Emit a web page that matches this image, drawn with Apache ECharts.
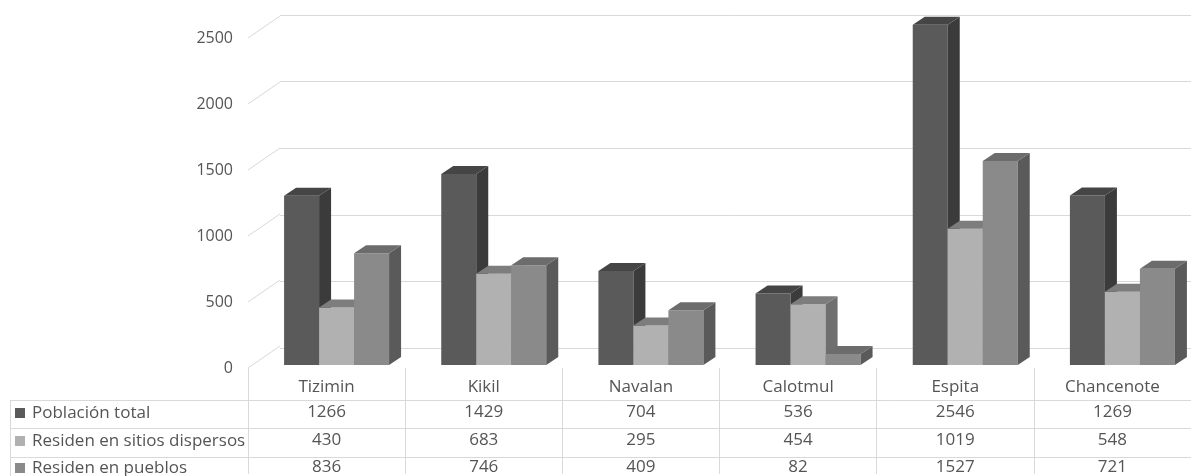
<!DOCTYPE html>
<html>
<head>
<meta charset="utf-8">
<script src="https://cdn.jsdelivr.net/npm/echarts@6/dist/echarts.min.js"></script>
<style>
  html, body { margin: 0; padding: 0; background: #ffffff; }
  #chart { width: 1191px; height: 476px; }
</style>
</head>
<body>
<div id="chart"></div>
<script>
// Localidades y población por tipo de residencia
const categories = ['Tizimin', 'Kikil', 'Navalan', 'Calotmul', 'Espita', 'Chancenote'];
const seriesNames = ['Población total', 'Residen en sitios dispersos', 'Residen en pueblos'];
const poblacionTotal = [1266, 1429, 704, 536, 2546, 1269];
const sitiosDispersos = [430, 683, 295, 454, 1019, 548];
const residenPueblos = [836, 746, 409, 82, 1527, 721];
const yTicks = [0, 500, 1000, 1500, 2000, 2500];

const seriesValues = [poblacionTotal, sitiosDispersos, residenPueblos];

// front / top / side shading for each series
const shades = [
  { front: '#5a5a5a', top: '#454545', side: '#3b3b3b' },
  { front: '#b1b1b1', top: '#7d7d7d', side: '#6f6f6f' },
  { front: '#8a8a8a', top: '#6c6c6c', side: '#5a5a5a' }
];

const textColor = '#555555';
const ruleColor = '#d9d9d9';
const FONT = '"Open Sans", "Noto Sans", sans-serif';

// depth of each bar and of the back wall
const BAR_DX = 12, BAR_DY = 8;
const WALL_DX = 32, WALL_DY = 22;

function bar3D(s) {
  const c = shades[s];
  return function (params, api) {
    const cat = api.value(0);
    const val = api.value(1);
    const base = api.coord([cat, 0]);
    const top = api.coord([cat, val]);
    const band = api.size([1, 0])[0];
    const w = band * 0.2227;
    const x0 = base[0] + band * 0.0636 - 1.5 * w + s * w;
    const x1 = x0 + w;
    const yb = base[1], yt = top[1];
    return {
      type: 'group',
      children: [
        { type: 'rect', shape: { x: x0, y: yt, width: w, height: yb - yt }, style: { fill: c.front } },
        { type: 'polygon', shape: { points: [[x1, yb], [x1 + BAR_DX, yb - BAR_DY], [x1 + BAR_DX, yt - BAR_DY], [x1, yt]] }, style: { fill: c.side } },
        { type: 'polygon', shape: { points: [[x0, yt], [x0 + BAR_DX, yt - BAR_DY], [x1 + BAR_DX, yt - BAR_DY], [x1, yt]] }, style: { fill: c.top } }
      ]
    };
  };
}

// diagonal wall edges joining the front tick positions to the back wall grid lines
function wallEdge(params, api) {
  const p = api.coord([0, api.value(1)]);
  const x = params.coordSys.x;
  return {
    type: 'line',
    shape: { x1: x, y1: p[1], x2: x + WALL_DX, y2: p[1] - WALL_DY },
    style: { stroke: ruleColor, lineWidth: 1 }
  };
}

const tableText = { color: textColor, fontSize: 17, fontFamily: FONT, lineHeight: 18 };

function rowAxis(values, offset) {
  return {
    type: 'category', gridIndex: 0, data: categories, position: 'bottom', offset: offset,
    axisLine: { show: false }, axisTick: { show: false }, splitLine: { show: false },
    axisLabel: Object.assign({ interval: 0, margin: 0, formatter: (v, i) => String(values[i]) }, tableText)
  };
}

// one legend per table row, so each key sits beside its own row
const rowCenters = [412, 440, 467];
const legends = seriesNames.map((name, s) => ({
  orient: 'horizontal', left: 15, top: rowCenters[s] - 8, padding: 0,
  icon: 'rect', itemWidth: 10, itemHeight: 10, itemGap: 6,
  selectedMode: false,
  data: [name],
  textStyle: Object.assign({}, tableText, { padding: [0, 0, 0, 2] })
}));

const chart = echarts.init(document.getElementById('chart'), null, { renderer: 'canvas' });

const option = {
  animation: false,
  backgroundColor: '#ffffff',
  textStyle: { fontFamily: FONT },
  grid: [
    { left: 248, right: 0, top: 38, bottom: 106 },  // front plane: axis labels and table
    { left: 248, right: 0, top: 31, bottom: 111 },  // bars
    { left: 248 + WALL_DX, right: 0, top: 15, bottom: 128 }  // back wall
  ],
  legend: legends,
  xAxis: [
    {
      type: 'category', gridIndex: 0, data: categories, position: 'bottom',
      axisLine: { show: false },
      axisTick: { show: true, length: 106, lineStyle: { color: ruleColor } },
      splitLine: { show: false },
      axisLabel: Object.assign({ interval: 0, margin: 10 }, tableText)
    },
    rowAxis(poblacionTotal, 35),
    rowAxis(sitiosDispersos, 63),
    rowAxis(residenPueblos, 90),
    { type: 'category', gridIndex: 1, data: categories, show: false },
    { type: 'category', gridIndex: 2, data: categories, show: false }
  ],
  yAxis: [
    {
      type: 'value', gridIndex: 0, min: 0, max: 2500, interval: 500,
      axisLine: { show: false }, axisTick: { show: false }, splitLine: { show: false },
      axisLabel: { margin: 15, color: textColor, fontSize: 16, fontFamily: FONT, formatter: v => String(v) }
    },
    { type: 'value', gridIndex: 1, min: 0, max: 2500, interval: 500, show: false, splitLine: { show: false } },
    {
      type: 'value', gridIndex: 2, min: 0, max: 2500, interval: 500,
      axisLine: { show: false }, axisTick: { show: false }, axisLabel: { show: false },
      splitLine: { show: true, lineStyle: { color: ruleColor, width: 1 } }
    }
  ],
  series: [
    {
      type: 'custom', name: 'wall', xAxisIndex: 0, yAxisIndex: 0, silent: true,
      renderItem: wallEdge,
      data: yTicks.map(v => [0, v])
    }
  ].concat(seriesValues.map((vals, s) => ({
    type: 'custom', name: seriesNames[s], xAxisIndex: 4, yAxisIndex: 1,
    itemStyle: { color: shades[s].front },
    renderItem: bar3D(s),
    encode: { x: 0, y: 1 },
    data: vals.map((v, i) => [i, v])
  }))),
  graphic: [
    // table rules
    ...[400.5, 428.5, 457.5].map(y => ({
      type: 'line', silent: true,
      shape: { x1: 10, y1: y, x2: 1191, y2: y },
      style: { stroke: ruleColor, lineWidth: 1 }
    })),
    {
      type: 'line', silent: true,
      shape: { x1: 10.5, y1: 400, x2: 10.5, y2: 476 },
      style: { stroke: ruleColor, lineWidth: 1 }
    }
  ]
};

chart.setOption(option);
</script>
</body>
</html>
